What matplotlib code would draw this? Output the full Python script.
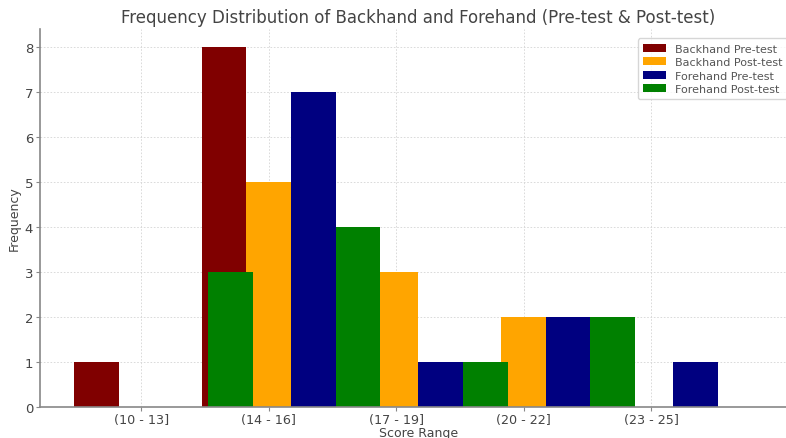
import matplotlib.pyplot as plt
import numpy as np

score_ranges = ['(10 - 13]', '(14 - 16]', '(17 - 19]', '(20 - 22]', '(23 - 25]']
backhand_pre = [1, 8, 0, 0, 0]
backhand_post = [0, 5, 3, 2, 0]
forehand_pre = [0, 7, 1, 2, 1]
forehand_post = [3, 4, 1, 2, 0]

x = np.arange(len(score_ranges))
width = 0.35

fig = plt.figure(figsize=(7.86, 4.39), dpi=100)
ax = fig.add_axes([0.0509, 0.0706, 0.963, 0.861])

ax.bar(x - width, backhand_pre, width, color='maroon', label='Backhand Pre-test')
ax.bar(x, backhand_post, width, color='orange', label='Backhand Post-test')
ax.bar(x + width, forehand_pre, width, color='navy', label='Forehand Pre-test')
ax.bar(x + 2 * width, forehand_post, width, color='green', label='Forehand Post-test')

ax.set_xlim(-0.795, 5.145)
ax.set_ylim(0, 8.4)
ax.set_xticks(x)
ax.set_xticklabels(score_ranges)
ax.set_yticks(range(9))

txt = '#444444'
ax.set_title('Frequency Distribution of Backhand and Forehand (Pre-test & Post-test)',
             fontsize=12, color=txt, pad=5)
ax.set_xlabel('Score Range', fontsize=9, color=txt, labelpad=0)
ax.set_ylabel('Frequency', fontsize=9, color=txt, labelpad=3)
ax.tick_params(labelsize=9.5, colors=txt, length=3)
ax.tick_params(axis='x', labelsize=9.2, pad=1)
ax.tick_params(axis='y', pad=2)
ax.tick_params(axis='both', color='#888888')

ax.grid(True, linestyle=(0, (2, 2)), color='#d5d5d5', linewidth=0.6)
ax.set_axisbelow(True)
ax.spines['top'].set_visible(False)
for s in ['left', 'bottom', 'right']:
    ax.spines[s].set_color('#888888')
    ax.spines[s].set_linewidth(1.2)

leg = ax.legend(loc='upper right', fontsize=8, frameon=True, borderpad=0.5,
                handlelength=2, labelspacing=0.3, bbox_to_anchor=(0.995, 0.99))
for t in leg.get_texts():
    t.set_color('#555555')

fig.savefig('out.png', dpi=100)
